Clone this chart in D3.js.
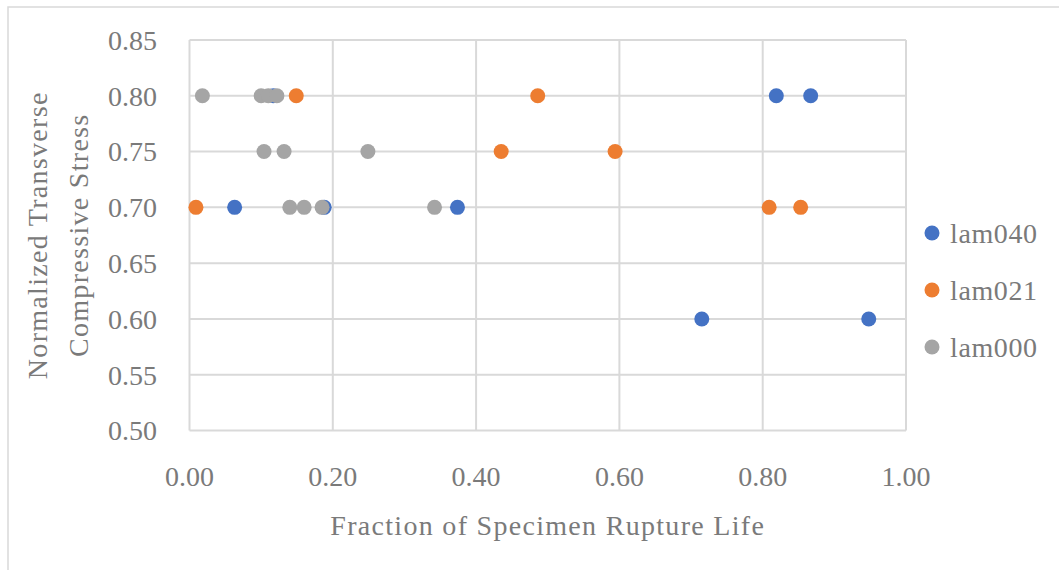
<!DOCTYPE html>
<html>
<head>
<meta charset="utf-8">
<script src="https://cdn.jsdelivr.net/npm/d3@7"></script>
<style>
  html, body { margin: 0; padding: 0; background: #fff; }
  svg { display: block; }
  text { font-family: "Liberation Serif", "Times New Roman", serif; fill: #7a7a7a; }
</style>
</head>
<body>
<script>
// Series: fraction of specimen rupture life (x) vs normalized stress (y)
const seriesNames = ["lam040", "lam021", "lam000"];
const seriesColors = ["#4472C4", "#ED7D31", "#A5A5A5"];

const lam040X = [0.063, 0.188, 0.374, 0.117, 0.819, 0.867, 0.715, 0.948];
const lam040Y = [0.70, 0.70, 0.70, 0.80, 0.80, 0.80, 0.60, 0.60];

const lam021X = [0.009, 0.149, 0.486, 0.435, 0.594, 0.809, 0.853];
const lam021Y = [0.70, 0.80, 0.80, 0.75, 0.75, 0.70, 0.70];

const lam000X = [0.018, 0.100, 0.110, 0.122, 0.104, 0.132, 0.249, 0.140, 0.160, 0.185, 0.342];
const lam000Y = [0.80, 0.80, 0.80, 0.80, 0.75, 0.75, 0.75, 0.70, 0.70, 0.70, 0.70];

const xTicks = [0.00, 0.20, 0.40, 0.60, 0.80, 1.00];
const yTicks = [0.50, 0.55, 0.60, 0.65, 0.70, 0.75, 0.80, 0.85];

const xTitle = "Fraction of Specimen Rupture Life";
const yTitleLines = ["Normalized Transverse", "Compressive Stress"];

const W = 1059, H = 570;
const plot = { left: 189.5, right: 906, top: 40, bottom: 430.5 };

const svg = d3.select("body").append("svg").attr("width", W).attr("height", H);

// outer chart frame
svg.append("rect")
  .attr("x", 8).attr("y", 7).attr("width", W + 20).attr("height", H + 20)
  .attr("fill", "#fff").attr("stroke", "#d9d9d9").attr("stroke-width", 1.5);

const x = d3.scaleLinear().domain([0, 1]).range([plot.left, plot.right]);
const y = d3.scaleLinear().domain([0.5, 0.85]).range([plot.bottom, plot.top]);

// gridlines
const grid = svg.append("g").attr("stroke", "#d9d9d9").attr("stroke-width", 2);
grid.selectAll("line.h").data(yTicks).join("line")
  .attr("class", "h")
  .attr("x1", plot.left).attr("x2", plot.right)
  .attr("y1", d => y(d)).attr("y2", d => y(d));
grid.selectAll("line.v").data(xTicks).join("line")
  .attr("class", "v")
  .attr("y1", plot.top).attr("y2", plot.bottom)
  .attr("x1", d => x(d)).attr("x2", d => x(d));

// tick labels
svg.append("g").selectAll("text").data(yTicks).join("text")
  .attr("x", 157).attr("y", d => y(d)).attr("dy", "0.35em")
  .attr("text-anchor", "end").attr("font-size", 28)
  .text(d => d.toFixed(2));

svg.append("g").selectAll("text").data(xTicks).join("text")
  .attr("x", d => x(d)).attr("y", 486)
  .attr("text-anchor", "middle").attr("font-size", 28)
  .text(d => d.toFixed(2));

// axis titles
svg.append("text")
  .attr("x", (plot.left + plot.right) / 2).attr("y", 535)
  .attr("text-anchor", "middle").attr("font-size", 28)
  .attr("letter-spacing", 1.3)
  .text(xTitle);

const yt = svg.append("g").attr("transform", `translate(0, ${(plot.top + plot.bottom) / 2}) rotate(-90)`);
yTitleLines.forEach((line, i) => {
  yt.append("text")
    .attr("x", 0).attr("y", 47 + i * 41)
    .attr("text-anchor", "middle").attr("font-size", 28)
    .attr("letter-spacing", 1.3)
    .text(line);
});

// markers
const series = [
  { xs: lam040X, ys: lam040Y },
  { xs: lam021X, ys: lam021Y },
  { xs: lam000X, ys: lam000Y }
];
series.forEach((s, i) => {
  svg.append("g").selectAll("circle")
    .data(s.xs.map((v, j) => [v, s.ys[j]]))
    .join("circle")
    .attr("cx", d => x(d[0])).attr("cy", d => y(d[1]))
    .attr("r", 7.5).attr("fill", seriesColors[i]);
});

// legend
const legend = svg.append("g");
seriesNames.forEach((name, i) => {
  const ly = 233 + i * 57;
  legend.append("circle").attr("cx", 932).attr("cy", ly).attr("r", 7.5).attr("fill", seriesColors[i]);
  legend.append("text").attr("x", 950).attr("y", ly).attr("dy", "0.35em")
    .attr("font-size", 28).attr("letter-spacing", 0.6).text(name);
});
</script>
</body>
</html>
